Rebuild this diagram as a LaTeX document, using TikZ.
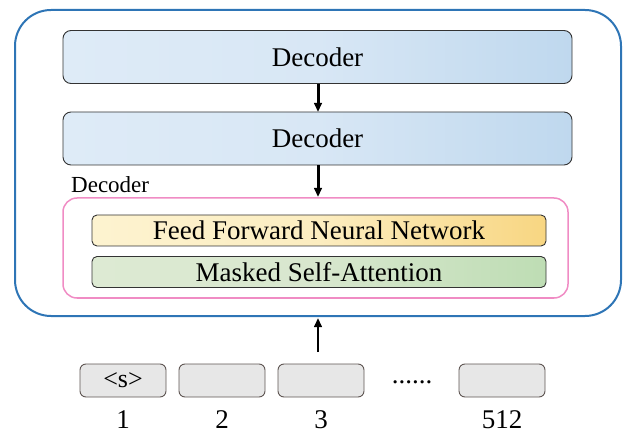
\documentclass[tikz,border=0pt]{standalone}
\usepackage{fontspec}
\setmainfont{Liberation Serif}
\usetikzlibrary{arrows.meta}
\definecolor{outerblue}{HTML}{2E75B6}
\definecolor{pinkb}{HTML}{F08CC4}
\definecolor{decL}{HTML}{DEEBF7}
\definecolor{decM}{HTML}{D8E7F5}
\definecolor{decR}{HTML}{BFD8EE}
\definecolor{ffL}{HTML}{FDF3D0}
\definecolor{ffM}{HTML}{FCEDC0}
\definecolor{ffR}{HTML}{F8D682}
\definecolor{msL}{HTML}{DDEAD3}
\definecolor{msM}{HTML}{D8E7CE}
\definecolor{msR}{HTML}{BEDDB4}
\definecolor{inb}{HTML}{E7E7E7}
\definecolor{inborder}{HTML}{5E5552}
\tikzset{
  decbox/.style={draw=black!80, line width=0.9pt, rounded corners=8pt, minimum width=509pt, minimum height=53pt,
     left color=decL, right color=decR, middle color=decM, font=\fontsize{27}{31}\selectfont, inner sep=0pt},
  layerbox/.style={draw=black!80, line width=0.9pt, rounded corners=5pt, minimum width=454pt, minimum height=31pt,
     font=\fontsize{27}{31}\selectfont, inner sep=0pt},
  inbox/.style={draw=inborder, line width=0.9pt, fill=inb, rounded corners=6pt, minimum width=86pt, minimum height=33pt,
     font=\fontsize{26}{30}\selectfont, inner sep=0pt},
  numlab/.style={font=\fontsize{27}{31}\selectfont, inner sep=0pt},
  arr/.style={-{Triangle[length=9pt,width=7.5pt]}, line width=2.2pt, draw=black}
}
\begin{document}
\begin{tikzpicture}[x=1pt,y=-1pt]
\useasboundingbox (0,0) rectangle (623,435);
\draw[outerblue, line width=2pt, rounded corners=36pt] (15,10) rectangle (621,316);
\node[decbox] (d1) at (317.5,57) {Decoder};
\node[decbox] (d2) at (317.5,138.5) {Decoder};
\node[draw=pinkb, line width=1.5pt, rounded corners=14pt, minimum width=505pt, minimum height=100pt] (pink) at (315.5,248) {};
\node[font=\fontsize{23}{27}\selectfont, anchor=west, inner sep=0pt] (lab) at (71,185) {Decoder};
\node[layerbox, left color=ffL, right color=ffR, middle color=ffM] (ff) at (319,230.5) {Feed Forward Neural Network};
\node[layerbox, left color=msL, right color=msR, middle color=msM] (ms) at (319,272) {Masked Self-Attention};
\node[inbox] (i1) at (123,380.5) {<s>};
\node[inbox] (i2) at (222,380.5) {};
\node[inbox] (i3) at (321,380.5) {};
\node[inbox] (i4) at (502,380.5) {};
\node[numlab, anchor=base] (dots) at (412,383) {......};
\node[numlab] (n1) at (123,420) {1};
\node[numlab] (n2) at (222,420) {2};
\node[numlab] (n3) at (321,420) {3};
\node[numlab] (n4) at (502,420) {512};
\coordinate (a1s) at (318,84.5);
\coordinate (a1e) at (318,112);
\coordinate (a2s) at (318,165.5);
\coordinate (a2e) at (318,197);
\coordinate (a3s) at (318,352);
\coordinate (a3e) at (318,318);
\draw[arr, line width=3pt] (a1s) -- (a1e);
\draw[arr, line width=3pt] (a2s) -- (a2e);
\draw[arr] (a3s) -- (a3e);
\end{tikzpicture}
\end{document}
